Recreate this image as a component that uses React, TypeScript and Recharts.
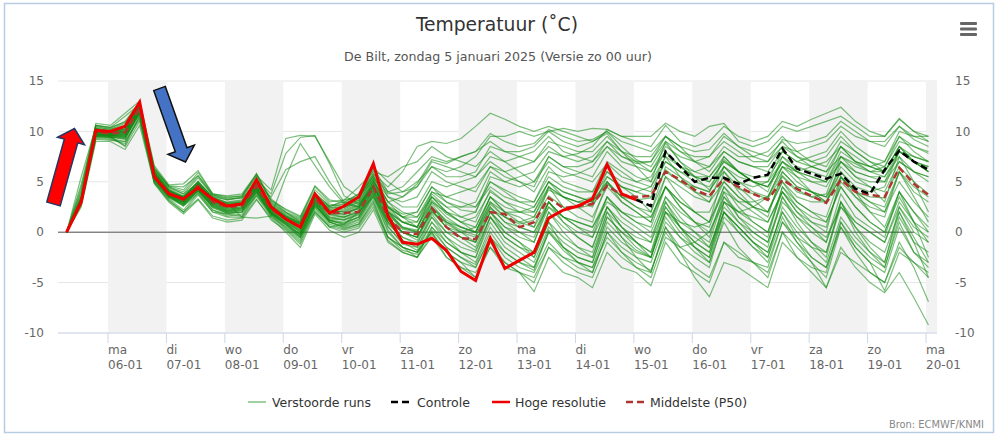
import React from 'react';
import { LineChart, Line, XAxis, YAxis, CartesianGrid, ReferenceArea, ReferenceLine } from 'recharts';

// time axis: hours after 05-01 00:00 (local), 6-hourly runs
const HOURS = [7, 13, 19, 25, 31, 37, 43, 49, 55, 61, 67, 73, 79, 85, 91, 97, 103, 109, 115, 121,
  127, 133, 139, 145, 151, 157, 163, 169, 175, 181, 187, 193, 199, 205, 211, 217, 223, 229, 235, 241,
  247, 253, 259, 265, 271, 277, 283, 289, 295, 301, 307, 313, 319, 325, 331, 337, 343, 349, 355, 361];

const TICKS = [24, 48, 72, 96, 120, 144, 168, 192, 216, 240, 264, 288, 312, 336, 360];
const DAY_NAMES = ['ma', 'di', 'wo', 'do', 'vr', 'za', 'zo', 'ma', 'di', 'wo', 'do', 'vr', 'za', 'zo', 'ma'];
const DATE_LABELS = ['06-01', '07-01', '08-01', '09-01', '10-01', '11-01', '12-01', '13-01', '14-01', '15-01', '16-01', '17-01', '18-01', '19-01', '20-01'];
const SHADED_DAYS: [number, number][] = [[24, 48], [72, 96], [120, 144], [168, 192], [216, 240], [264, 288], [312, 336], [360, 364.5]];
const Y_TICKS = [-10, -5, 0, 5, 10, 15];

// Hoge resolutie (deterministic run, 10 days)
const HIRES = [0, 3.0, 10.1, 10.0, 10.5, 12.9, 5.5, 3.8, 3.3, 4.4, 3.3, 2.6, 2.8, 5.2, 2.5,
  1.3, 0.5, 3.8, 1.9, 2.6, 3.5, 6.8, 1.6, -1.0, -1.2, -0.6, -1.8, -3.9, -4.8, -0.6,
  -3.6, -2.8, -2.0, 1.4, 2.2, 2.6, 3.3, 6.7, 3.8, 3.2];

// Controle (visible from where the high resolution run ends)
const CONTROL_START = 39;
const CONTROL = [3.2, 2.6, 8.0, 6.5, 5.0, 5.4, 5.4, 4.8, 5.4, 5.7, 8.3, 6.3, 5.8, 5.3, 5.8, 4.3, 3.8, 6.2, 8.1, 7.0, 6.2];

// Middelste (P50)
const MEDIAN = [0, 3.2, 9.9, 9.8, 9.9, 12.3, 5.6, 3.9, 3.2, 4.6, 3.0, 2.5, 2.6, 4.6, 2.3,
  1.3, 0.5, 3.3, 1.9, 1.9, 2.0, 4.5, 1.5, 0.0, -0.2, 2.4, 0.5, -0.6, -0.7, 2.0,
  1.8, 0.5, 1.0, 3.4, 2.4, 2.6, 2.8, 4.6, 3.7, 3.5, 3.6, 6.0, 5.2, 4.2, 3.6,
  5.3, 4.5, 3.8, 3.2, 5.2, 4.3, 3.6, 2.9, 5.2, 4.0, 3.7, 3.5, 6.4, 4.8, 3.7];

// Verstoorde runs (perturbed ensemble members)
const RUN_01 = [0, 3.5, 10.2, 9.9, 10.1, 12.5, 5.8, 4.0, 3.4, 4.8, 3.2, 2.7, 2.9, 4.8, 2.6,
  1.5, 0.8, 3.4, 2.1, 2.0, 2.3, 4.6, 1.8, 0.4, 0.1, 2.8, 1.0, 0.2, -0.3, 2.3,
  1.5, 0.8, 1.2, 3.6, 2.5, 2.4, 2.7, 4.8, 3.5, 3.2, 3.4, 6.2, 5.0, 4.0, 3.5,
  5.5, 4.3, 3.8, 3.3, 5.6, 4.2, 3.5, 3.0, 5.4, 4.0, 3.5, 3.4, 6.5, 5.0, 3.8];
const RUN_02 = [0, 3.0, 9.6, 9.5, 9.2, 11.8, 5.2, 3.6, 3.0, 4.2, 2.8, 2.2, 2.4, 4.3, 2.2,
  1.3, 0.6, 3.2, 2.4, 2.8, 3.6, 5.5, 3.0, 3.5, 4.8, 7.2, 6.8, 7.5, 8.0, 9.8,
  9.0, 8.5, 8.8, 10.2, 9.5, 9.0, 9.2, 10.0, 8.5, 7.2, 6.5, 8.8, 7.0, 5.5, 4.2,
  6.0, 4.5, 3.2, 2.0, 5.5, 4.0, 3.5, 3.8, 7.5, 6.8, 6.0, 6.5, 9.5, 8.5, 7.8];
const RUN_03 = [0, 2.8, 9.4, 9.3, 9.0, 11.5, 5.0, 3.4, 2.6, 4.0, 2.2, 1.8, 1.6, 3.8, 1.8,
  0.6, -0.5, 2.6, 1.2, 0.8, 1.5, 4.0, 1.0, -0.8, -1.5, 1.5, -0.5, -2.0, -3.0, 0.5,
  -1.5, -2.5, -3.5, 0.2, -1.5, -2.5, -3.0, 1.0, -0.5, -1.8, -2.5, 2.5, 0.5, -1.0, -2.0,
  3.0, 1.0, -0.5, -1.5, 3.5, 1.5, 0.0, -1.0, 3.8, 1.5, 0.5, -0.5, 4.0, 1.0, -2.5];
const RUN_04 = [0, 5.5, 10.5, 10.2, 10.8, 12.8, 6.2, 4.5, 3.8, 5.4, 3.6, 3.2, 3.5, 5.6, 4.2,
  9.3, 9.6, 9.5, 7.0, 4.5, 3.5, 5.2, 2.5, 1.5, 2.0, 4.5, 3.0, 2.2, 2.0, 5.0,
  4.2, 3.5, 3.0, 6.0, 5.5, 5.8, 6.5, 8.5, 7.5, 6.8, 7.0, 9.5, 8.5, 8.0, 8.2,
  9.8, 8.5, 7.5, 7.0, 9.2, 8.8, 9.0, 9.5, 11.0, 10.0, 9.0, 8.5, 10.5, 9.2, 8.5];
const RUN_05 = [0, 3.4, 10.3, 10.0, 10.4, 12.6, 6.0, 4.2, 3.5, 5.0, 3.4, 3.0, 3.2, 5.2, 3.8,
  7.8, 9.4, 9.6, 6.8, 3.6, 2.8, 4.6, 2.0, 0.5, 0.0, 3.0, 1.5, 0.5, 0.0, 3.5,
  2.0, 1.0, 0.5, 4.5, 2.5, 1.5, 1.0, 5.0, 3.0, 2.0, 1.0, 5.5, 3.5, 2.0, 1.0,
  6.0, 4.0, 2.5, 1.5, 6.0, 4.5, 4.0, 3.0, 7.0, 5.5, 4.5, 3.0, 7.5, 5.0, 2.0];
const RUN_06 = [0, 3.3, 10.0, 9.8, 10.2, 12.3, 5.9, 4.1, 3.3, 4.8, 3.1, 2.9, 1.5, 1.4, 1.6,
  5.5, 8.8, 6.6, 4.5, 2.8, 2.5, 5.0, 3.0, 1.5, 0.5, 3.8, 2.5, 1.5, 1.0, 4.2,
  3.0, 2.0, 1.5, 4.5, 3.5, 3.0, 2.5, 5.5, 4.5, 3.5, 2.0, 6.5, 5.5, 4.5, 4.0,
  7.5, 6.0, 5.0, 4.5, 7.0, 5.5, 4.0, 3.0, 6.0, 4.0, 2.0, 0.5, 4.0, 2.0, 0.0];
const RUN_07 = [0, 3.1, 9.7, 9.6, 9.5, 12.0, 5.4, 3.7, 3.0, 4.4, 2.8, 2.3, 2.4, 4.4, 2.0,
  0.8, -0.3, 2.8, 1.0, 0.5, 1.0, 3.5, 0.0, -1.5, -2.5, -0.5, -2.5, -3.5, -4.5, -1.0,
  -3.0, -4.0, -5.0, -1.5, -3.0, -4.0, -4.5, -1.0, -2.5, -3.5, -4.0, 0.5, -1.5, -2.5, -3.5,
  1.5, 0.0, -1.5, -2.5, 2.5, 0.5, -1.0, -2.0, 3.0, 0.5, -1.5, -3.0, 2.0, -1.0, -4.5];
const RUN_08 = [0, 3.3, 10.1, 9.9, 10.0, 12.4, 5.7, 3.9, 3.3, 4.7, 3.2, 2.6, 2.7, 4.9, 2.4,
  1.6, 1.0, 3.6, 2.2, 2.0, 2.6, 5.0, 2.5, 1.0, 0.5, 3.5, 2.0, 1.5, 2.0, 5.5,
  5.0, 5.5, 6.0, 8.0, 7.5, 7.8, 8.5, 10.2, 9.5, 9.0, 8.5, 10.6, 9.0, 8.5, 9.0,
  10.5, 9.5, 9.0, 9.5, 11.0, 10.5, 11.2, 11.8, 12.4, 11.0, 10.0, 9.5, 11.2, 10.0, 9.5];
const RUN_09 = [0, 2.9, 9.5, 9.4, 9.3, 11.9, 5.3, 3.5, 2.8, 4.1, 2.6, 2.0, 2.2, 4.0, 2.0,
  1.0, 0.2, 3.0, 1.5, 1.2, 1.8, 4.2, 1.2, 0.0, -0.8, 2.0, 0.5, -0.5, -1.0, 2.0,
  0.5, -0.5, -1.0, 2.5, 1.0, 0.0, -0.5, 3.5, 2.0, 1.0, 0.5, 4.5, 2.5, 1.0, -0.5,
  4.0, 1.5, 0.0, -1.0, 3.5, 1.0, -1.0, -2.5, 3.0, 0.0, -2.0, -3.0, 2.5, 0.0, -1.0];
const RUN_10 = [0, 4.8, 10.6, 10.4, 11.5, 12.7, 6.0, 4.3, 3.6, 5.0, 3.5, 2.9, 3.0, 5.1, 2.8,
  1.8, 1.2, 3.8, 2.6, 3.0, 3.8, 5.8, 4.5, 6.0, 8.5, 9.0, 8.8, 9.3, 10.5, 11.8,
  11.2, 10.5, 10.0, 10.5, 10.0, 9.5, 9.0, 9.8, 8.0, 6.5, 5.0, 7.5, 5.5, 4.0, 3.0,
  6.5, 5.0, 4.5, 5.0, 8.0, 7.0, 7.5, 8.0, 10.0, 8.5, 7.5, 7.0, 9.5, 8.0, 7.0];
const RUN_11 = [0, 3.2, 9.9, 9.8, 9.9, 12.2, 5.6, 3.9, 3.2, 4.5, 3.0, 2.5, 2.6, 4.6, 2.3,
  1.2, 0.4, 3.3, 1.8, 2.2, 2.8, 5.2, 2.0, 0.5, 0.2, 2.5, 0.8, 0.0, -0.5, 2.8,
  1.5, 1.0, 1.5, 4.2, 3.5, 3.0, 3.5, 5.5, 4.5, 4.0, 4.5, 7.0, 6.0, 5.5, 5.5,
  7.2, 6.0, 5.0, 4.5, 6.5, 5.0, 4.0, 3.5, 6.0, 4.5, 4.0, 4.5, 8.0, 7.0, 6.0];
const RUN_12 = [0, 3.0, 9.6, 9.5, 8.5, 11.0, 5.1, 3.5, 2.7, 4.2, 2.4, 1.9, 2.0, 4.1, 1.7,
  0.4, -0.8, 2.4, 0.8, 0.3, 0.8, 3.0, -0.5, -1.8, -2.2, 0.2, -1.5, -2.5, -3.2, 0.0,
  -2.0, -3.0, -3.8, 0.0, -1.8, -3.0, -3.5, -0.5, -2.0, -3.0, -3.8, 0.0, -2.0, -3.5, -4.5,
  -1.0, -2.0, -3.0, -4.0, 0.0, -1.5, -3.0, -4.5, 0.5, -1.5, -3.0, -4.0, 0.5, -2.0, -3.5];
const RUN_13 = [0, 3.4, 10.2, 9.9, 10.3, 12.5, 5.9, 4.1, 3.5, 4.9, 3.3, 2.8, 3.0, 5.0, 2.7,
  1.7, 1.1, 3.7, 2.5, 2.4, 3.0, 5.4, 3.5, 2.5, 2.5, 5.0, 4.5, 5.0, 5.5, 7.5,
  7.0, 7.5, 8.0, 9.5, 8.0, 7.5, 7.0, 8.5, 7.0, 6.5, 6.0, 8.5, 7.5, 7.0, 6.5,
  8.5, 7.5, 7.5, 8.0, 9.5, 8.0, 7.0, 6.5, 9.0, 8.0, 7.0, 6.5, 9.0, 8.5, 8.0];
const RUN_14 = [0, 3.1, 9.8, 9.6, 9.6, 12.1, 5.5, 3.8, 3.1, 4.5, 2.9, 2.4, 2.5, 4.4, 2.1,
  1.0, 0.0, 3.0, 1.5, 1.5, 2.0, 4.5, 1.5, 0.0, -0.5, 2.5, 1.0, 0.0, -1.0, 2.5,
  1.0, 0.0, -1.0, 3.0, 1.5, 0.5, 0.0, 3.5, 1.5, 0.5, -0.5, 3.0, 0.5, -1.5, -3.0,
  1.0, -1.5, -3.0, -4.5, 0.0, -2.5, -4.0, -5.5, -1.5, -3.5, -5.0, -6.0, -4.0, -6.5, -9.2];
const RUN_15 = [0, 3.3, 10.0, 9.7, 9.7, 12.3, 5.7, 4.0, 3.2, 4.6, 3.0, 2.6, 2.7, 4.7, 2.4,
  1.4, 0.7, 3.5, 2.0, 1.8, 2.5, 4.8, 2.2, 1.0, 0.5, 3.2, 1.8, 1.0, 0.5, 3.5,
  2.0, 1.5, 0.5, 3.0, 1.0, -0.5, -1.5, 2.5, 0.5, -1.0, -2.5, 2.0, 0.0, -1.5, -2.5,
  3.0, 2.0, 2.5, 3.5, 6.5, 6.0, 6.5, 7.0, 8.5, 7.0, 6.0, 5.5, 7.5, 6.0, 5.0];
const RUN_16 = [0, 2.9, 9.5, 9.4, 8.6, 11.6, 5.0, 3.3, 2.2, 3.9, 2.2, 1.6, 1.8, 3.9, 1.6,
  0.5, -0.6, 2.5, 1.0, 0.6, 1.2, 3.8, 0.5, -1.0, -1.8, 1.0, -1.0, -2.0, -2.5, 1.5,
  -0.5, -1.5, -2.0, 2.0, 0.5, -0.5, -1.5, 2.5, 0.5, -1.0, -2.0, 3.0, 1.0, 0.0, -1.0,
  3.5, 1.5, 0.5, -0.5, 4.5, 2.5, 1.0, 0.0, 5.5, 3.5, 2.0, 1.5, 6.0, 4.0, 3.0];
const RUN_17 = [0, 4.2, 10.6, 10.3, 11.0, 12.9, 6.3, 4.6, 4.5, 5.6, 3.7, 3.4, 3.6, 5.8, 3.3,
  2.2, 1.5, 4.2, 2.8, 2.5, 3.2, 6.2, 3.5, 3.0, 3.5, 6.0, 5.0, 4.5, 4.0, 6.5,
  5.5, 5.0, 4.5, 7.5, 6.5, 6.0, 5.5, 8.0, 6.5, 5.5, 5.0, 9.0, 8.0, 7.5, 7.5,
  9.5, 8.5, 8.0, 7.5, 9.0, 7.5, 6.5, 6.0, 8.5, 7.0, 6.5, 7.0, 10.0, 9.5, 9.0];
const RUN_18 = [0, 3.0, 9.7, 9.5, 9.5, 11.9, 5.3, 3.6, 2.9, 4.3, 2.7, 2.1, 2.3, 4.3, 1.9,
  0.9, -0.2, 2.9, 1.2, 1.0, 1.5, 4.0, 0.8, -0.5, -1.2, 1.8, 0.0, -1.0, -1.8, 1.5,
  0.0, -1.0, -2.0, 2.0, 0.0, -1.5, -2.5, 2.0, -0.5, -2.5, -4.0, 0.5, -2.0, -4.5, -6.4,
  -3.0, -3.5, -4.5, -5.5, -1.0, -2.5, -3.5, -4.0, 1.0, -1.0, -2.5, -3.5, 1.5, -1.0, -2.0];
const RUN_19 = [0, 3.2, 9.9, 9.8, 10.0, 12.4, 5.7, 4.0, 3.3, 4.7, 3.1, 2.6, 2.8, 4.8, 2.5,
  1.5, 0.8, 3.5, 2.2, 2.5, 3.2, 5.6, 3.0, 2.0, 1.5, 4.0, 3.0, 2.5, 3.0, 6.0,
  5.0, 4.5, 5.0, 7.0, 6.0, 5.5, 5.0, 6.8, 5.5, 5.0, 5.5, 8.0, 6.5, 6.0, 6.5,
  8.0, 7.0, 6.5, 6.0, 8.0, 7.0, 6.5, 6.0, 7.5, 6.0, 5.5, 5.0, 7.0, 6.0, 5.5];
const RUN_20 = [0, 3.1, 9.7, 9.7, 9.8, 12.2, 5.5, 3.8, 3.1, 4.4, 2.9, 2.4, 2.5, 4.5, 2.2,
  1.2, 0.3, 3.1, 1.7, 1.5, 2.2, 4.6, 1.5, 0.0, -0.5, 2.2, 0.5, 0.0, 0.5, 3.5,
  2.5, 2.0, 2.0, 4.5, 3.5, 3.0, 3.0, 5.0, 3.5, 2.5, 1.5, 4.5, 3.0, 2.0, 1.0,
  4.5, 3.0, 2.0, 1.0, 4.0, 2.0, 1.0, 0.5, 5.0, 3.5, 2.5, 2.0, 6.0, 3.5, 1.0];
const RUN_21 = [0, 2.8, 9.3, 9.2, 8.8, 11.4, 4.9, 3.2, 2.0, 3.7, 2.0, 1.5, 1.5, 3.6, 1.5,
  0.3, -1.0, 2.2, 0.6, 0.2, 0.6, 2.8, -0.8, -2.0, -2.5, -0.2, -2.0, -3.0, -3.5, -0.5,
  -2.5, -3.5, -4.0, -1.0, -2.5, -3.5, -4.0, 0.0, -1.5, -2.5, -3.0, 1.0, -0.5, -1.5, -2.5,
  2.0, 0.5, -1.0, -2.0, 2.0, -0.5, -2.5, -3.5, 0.5, -2.0, -4.0, -5.0, -1.0, -3.5, -6.9];
const RUN_22 = [0, 3.4, 10.1, 9.9, 10.4, 12.5, 5.8, 4.1, 3.4, 4.8, 3.2, 2.7, 2.9, 4.9, 2.6,
  1.6, 0.9, 3.6, 2.3, 2.6, 3.4, 5.8, 4.0, 4.5, 6.0, 7.5, 7.0, 7.5, 8.0, 9.0,
  8.0, 7.5, 7.0, 9.0, 8.5, 8.0, 8.0, 9.5, 8.0, 7.0, 6.0, 8.0, 6.5, 5.5, 5.0,
  7.0, 6.0, 5.0, 4.5, 7.0, 6.0, 5.5, 5.0, 8.0, 7.0, 6.5, 6.0, 8.5, 7.0, 6.0];
const RUN_23 = [0, 3.0, 9.6, 9.6, 9.4, 11.8, 5.2, 3.6, 2.8, 4.1, 2.5, 2.0, 2.1, 4.1, 1.8,
  0.8, -0.2, 2.7, 1.1, 0.9, 1.5, 3.8, 0.6, -1.2, -1.5, 1.0, -0.5, -1.5, -2.0, 1.5,
  -0.5, -1.5, -2.5, 1.0, -0.5, -1.5, -2.0, 2.0, 0.5, -0.5, -1.0, 3.5, 2.0, 1.0, 0.5,
  4.5, 2.5, 1.0, 0.0, 4.0, 2.0, 0.5, -1.0, 3.0, 1.0, 0.0, -1.0, 2.5, 0.5, -0.5];
const RUN_24 = [0, 3.3, 10.1, 9.9, 10.2, 12.6, 5.8, 4.0, 3.4, 4.7, 3.2, 2.7, 2.8, 4.8, 2.5,
  1.5, 0.8, 3.4, 2.0, 1.8, 2.4, 4.8, 2.0, 1.0, 1.0, 4.0, 3.5, 4.0, 4.5, 6.5,
  6.0, 6.5, 7.0, 8.5, 7.5, 7.0, 7.5, 9.0, 7.5, 7.0, 7.0, 9.0, 7.0, 6.0, 5.5,
  7.5, 6.0, 5.5, 5.5, 7.5, 6.0, 5.0, 4.5, 7.0, 5.5, 5.0, 5.0, 8.0, 7.5, 7.0];
const RUN_25 = [0, 3.2, 9.8, 9.7, 9.9, 12.3, 5.6, 3.9, 3.2, 4.6, 3.0, 2.5, 2.7, 4.6, 2.3,
  1.3, 0.5, 3.2, 1.8, 1.7, 2.4, 4.7, 1.8, 0.3, 0.0, 2.5, 1.2, 0.5, 0.0, 3.0,
  2.0, 2.0, 2.5, 5.0, 4.0, 3.5, 3.0, 5.0, 3.5, 2.5, 2.0, 5.5, 4.5, 3.5, 3.0,
  5.0, 3.5, 2.5, 2.0, 5.0, 3.5, 3.0, 3.0, 5.5, 4.0, 3.0, 2.5, 6.0, 4.5, 3.5];
const RUN_26 = [0, 3.0, 9.5, 9.4, 9.3, 11.8, 5.2, 3.5, 2.7, 4.1, 2.5, 1.9, 2.0, 4.0, 1.8,
  0.7, -0.4, 2.7, 1.2, 0.7, 1.3, 3.6, 0.2, -1.5, -2.0, 0.5, -1.5, -2.5, -3.5, -0.5,
  -2.0, -3.0, -3.5, 0.0, -1.5, -2.5, -3.0, 1.5, 0.0, -1.5, -2.5, 1.5, -0.5, -2.0, -3.0,
  2.0, 0.5, -1.0, -2.5, 1.5, -1.0, -3.0, -5.5, -2.0, -3.0, -4.0, -5.0, -1.5, -3.0, -4.5];
const RUN_27 = [0, 4.5, 10.3, 10.1, 10.5, 12.7, 6.0, 4.2, 3.5, 5.1, 3.4, 2.9, 3.1, 5.2, 2.9,
  1.9, 1.3, 3.9, 2.6, 2.8, 3.5, 5.6, 3.8, 4.0, 5.0, 6.5, 6.0, 6.5, 7.5, 9.5,
  9.5, 10.0, 9.5, 10.0, 10.3, 10.0, 10.3, 10.2, 9.5, 9.5, 9.5, 10.8, 10.0, 9.5, 10.5,
  10.8, 9.0, 8.5, 9.0, 10.5, 10.0, 10.5, 11.0, 11.5, 10.5, 9.5, 9.5, 11.3, 10.0, 9.0];
const RUN_28 = [0, 3.0, 9.6, 9.5, 9.4, 11.9, 5.3, 3.6, 2.9, 4.2, 2.6, 2.1, 2.2, 4.2, 1.9,
  0.9, -0.2, 2.7, 1.0, 0.4, 0.8, 3.2, -0.5, -1.5, -2.0, 0.0, -2.0, -3.0, -4.5, -1.5,
  -3.5, -4.0, -5.9, -2.5, -4.0, -4.5, -5.5, -2.0, -3.5, -4.0, -5.3, -1.0, -3.0, -4.0, -5.0,
  -1.0, -2.5, -3.0, -3.5, 1.0, -0.5, -1.5, -2.0, 2.5, 1.0, 0.0, -1.0, 3.0, 1.0, 0.0];
const RUN_29 = [0, 3.2, 9.9, 9.8, 10.0, 12.3, 5.7, 3.9, 3.2, 4.6, 3.1, 2.6, 2.7, 4.7, 2.4,
  1.4, 0.6, 3.3, 2.0, 2.1, 2.7, 5.0, 2.4, 1.5, 1.5, 3.5, 2.5, 2.5, 2.5, 4.5,
  3.5, 3.0, 3.0, 5.5, 4.5, 4.0, 4.0, 6.0, 4.5, 4.0, 3.5, 6.0, 5.0, 4.5, 4.0,
  6.5, 5.0, 4.0, 3.5, 6.0, 4.5, 4.0, 3.5, 6.5, 5.0, 4.5, 4.0, 7.0, 6.0, 5.5];
const RUN_30 = [0, 3.1, 9.8, 9.6, 9.7, 12.0, 5.4, 3.7, 3.0, 4.4, 2.8, 2.3, 2.4, 4.4, 2.1,
  1.1, 0.1, 3.0, 1.4, 1.3, 1.9, 4.3, 1.2, 0.0, -0.5, 2.2, 0.5, -0.5, -1.0, 2.0,
  0.5, 0.0, -0.5, 3.0, 1.5, 1.0, 0.5, 3.5, 2.0, 1.0, 0.0, 3.5, 1.5, 0.0, -1.5,
  2.0, 0.0, -1.5, -3.0, 1.0, -1.0, -2.5, -3.5, 1.0, -1.5, -3.0, -5.8, -2.0, -3.0, -4.0];
const RUN_31 = [0, 3.4, 10.2, 10.0, 10.2, 12.5, 5.8, 4.1, 3.4, 4.8, 3.2, 2.8, 2.9, 4.9, 2.6,
  1.6, 0.9, 3.6, 2.1, 2.3, 3.0, 5.3, 2.6, 1.8, 2.0, 4.5, 3.5, 3.0, 2.5, 5.0,
  4.0, 3.0, 2.5, 5.0, 3.5, 2.5, 1.5, 4.5, 3.0, 2.0, 1.0, 4.5, 2.5, 1.0, 0.0,
  3.5, 2.0, 1.0, 0.0, 4.5, 3.0, 2.0, 1.5, 5.5, 4.0, 3.0, 2.0, 5.0, 3.0, 1.5];
const RUN_32 = [0, 3.0, 9.7, 9.6, 9.6, 12.0, 5.4, 3.7, 3.0, 4.3, 2.7, 2.2, 2.3, 4.3, 2.0,
  1.0, 0.0, 2.9, 1.3, 1.2, 1.7, 4.2, 1.0, -0.5, -1.0, 1.5, 0.0, -0.5, -1.5, 2.0,
  0.0, -1.0, -2.5, 1.0, -1.5, -3.0, -4.0, 0.0, -2.0, -3.5, -4.5, -0.5, -1.5, -1.0, 0.0,
  3.0, 2.0, 1.5, 1.0, 4.0, 2.5, 1.5, 1.0, 4.5, 2.5, 1.0, 0.0, 4.0, 2.0, 0.5];
const RUN_33 = [0, 4.0, 10.8, 10.6, 11.8, 13.0, 6.6, 4.7, 4.8, 6.1, 3.8, 3.6, 3.8, 5.8, 3.0,
  2.0, 1.4, 4.5, 3.0, 3.2, 3.5, 6.4, 5.0, 4.0, 4.5, 7.0, 6.5, 6.0, 5.5, 7.0,
  6.0, 5.0, 4.0, 6.5, 5.0, 4.5, 4.0, 7.0, 6.0, 5.0, 4.5, 7.5, 6.5, 5.5, 5.0,
  7.0, 6.0, 5.0, 4.0, 7.5, 6.5, 6.0, 5.5, 8.5, 7.5, 6.5, 6.0, 8.0, 7.0, 6.5];
const RUN_34 = [0, 2.5, 9.0, 9.0, 8.2, 10.6, 4.8, 3.0, 1.8, 3.2, 1.4, 1.0, 1.2, 3.2, 1.4,
  0.0, -1.5, 1.8, 0.2, -0.5, 0.0, 2.2, -1.0, -2.0, -2.5, 0.5, -1.0, -2.0, -2.5, 1.0,
  -1.0, -2.0, -3.0, 0.5, -1.0, -2.0, -2.5, 1.5, 0.0, -1.0, -2.0, 2.0, 0.5, -0.5, -1.5,
  2.5, 1.0, 0.0, -1.0, 3.0, 1.5, 0.5, -0.5, 2.5, 0.5, -1.0, -2.0, 2.0, -0.5, -3.0];
const RUN_35 = [0, 3.6, 10.4, 10.2, 10.6, 12.6, 6.3, 4.5, 4.0, 5.6, 3.7, 3.3, 3.4, 5.5, 3.2,
  2.0, 1.0, 3.5, 2.5, 3.2, 4.5, 6.0, 5.5, 6.5, 7.0, 8.5, 7.5, 7.0, 6.5, 8.0,
  7.0, 6.0, 5.0, 7.5, 6.5, 6.5, 7.0, 9.0, 8.0, 7.5, 7.5, 9.5, 8.5, 7.0, 6.0,
  8.0, 7.0, 6.5, 6.5, 8.5, 7.5, 7.0, 7.5, 9.5, 8.0, 7.0, 6.0, 8.5, 7.5, 7.0];
const RUN_36 = [0, 2.7, 9.2, 9.1, 9.0, 11.2, 4.9, 3.1, 2.0, 3.3, 1.6, 1.2, 1.4, 3.3, 1.2,
  0.2, -1.2, 2.0, 0.5, 0.8, 2.0, 3.5, 1.0, 0.0, -0.5, 2.0, 1.0, 0.5, 0.0, 2.5,
  1.0, 0.5, 0.0, 2.5, 1.5, 1.0, 0.5, 3.0, 2.0, 1.5, 1.5, 4.5, 3.0, 2.0, 2.0,
  5.0, 3.5, 2.5, 2.0, 5.0, 3.0, 2.0, 1.0, 4.5, 2.5, 1.0, 0.0, 3.5, 1.0, -1.0];
const RUN_37 = [0, 3.1, 9.9, 9.7, 10.0, 12.1, 5.6, 3.6, 2.6, 3.8, 2.0, 1.8, 2.0, 3.6, 1.9,
  0.8, -0.5, 2.0, 0.5, 0.0, 0.4, 2.5, -0.5, -1.5, -2.0, 0.0, -2.5, -3.5, -4.0, -1.5,
  -3.0, -4.0, -4.5, -1.5, -2.5, -3.0, -3.5, 0.5, -1.0, -2.0, -2.5, 2.0, 1.0, 0.5, 1.0,
  4.0, 3.0, 3.0, 3.5, 6.5, 5.5, 5.0, 5.0, 7.5, 6.5, 6.0, 6.0, 8.5, 7.0, 6.5];
const RUN_38 = [0, 3.5, 10.3, 10.0, 10.6, 12.4, 6.1, 4.4, 3.8, 4.9, 3.5, 3.2, 3.4, 4.8, 3.5,
  6.2, 7.0, 7.5, 5.0, 3.0, 2.5, 4.5, 2.0, 1.0, 0.5, 3.0, 2.0, 1.0, 1.5, 4.0,
  3.0, 2.5, 2.0, 5.0, 4.0, 3.5, 3.0, 6.0, 5.0, 4.5, 4.0, 7.0, 6.0, 5.0, 4.5,
  6.5, 5.5, 5.0, 5.0, 7.0, 6.0, 5.5, 5.0, 7.0, 6.0, 5.5, 5.5, 8.0, 7.0, 6.0];
const RUN_39 = [0, 3.2, 9.8, 9.6, 9.8, 12.2, 5.5, 3.8, 3.6, 4.6, 3.0, 2.5, 2.8, 4.4, 2.3,
  1.2, 0.2, 3.0, 1.8, 1.5, 2.0, 4.5, 2.5, 1.5, 1.0, 3.5, 2.0, 1.0, 0.0, 3.0,
  1.5, 0.5, 0.0, 3.0, 1.5, 0.5, -0.5, 2.5, 1.0, 0.0, -1.0, 2.5, 0.5, -1.0, -2.0,
  2.0, 0.5, -1.0, -2.0, 2.0, 0.0, -1.5, -3.0, 1.5, -0.5, -2.0, -3.5, 1.0, -2.0, -3.0];
const RUN_40 = [0, 3.8, 10.6, 10.4, 10.9, 12.8, 6.4, 4.6, 4.2, 5.9, 3.8, 3.5, 3.6, 5.7, 3.1,
  2.3, 1.6, 4.6, 3.2, 2.9, 3.8, 6.4, 4.0, 3.5, 4.5, 6.5, 5.5, 5.5, 6.0, 8.5,
  8.0, 8.0, 8.5, 10.0, 9.0, 8.5, 9.0, 10.0, 9.0, 8.5, 8.0, 9.5, 8.0, 7.0, 7.5,
  9.0, 8.0, 7.0, 7.0, 8.5, 8.0, 8.5, 9.0, 10.5, 9.5, 9.0, 9.0, 10.5, 9.5, 9.5];

const RUNS = [RUN_01, RUN_02, RUN_03, RUN_04, RUN_05, RUN_06, RUN_07, RUN_08, RUN_09, RUN_10,
  RUN_11, RUN_12, RUN_13, RUN_14, RUN_15, RUN_16, RUN_17, RUN_18, RUN_19, RUN_20,
  RUN_21, RUN_22, RUN_23, RUN_24, RUN_25, RUN_26, RUN_27, RUN_28, RUN_29, RUN_30,
  RUN_31, RUN_32, RUN_33, RUN_34, RUN_35, RUN_36, RUN_37, RUN_38, RUN_39, RUN_40];

const rows = HOURS.map((h, k) => {
  const row: Record<string, number | null> = { h };
  RUNS.forEach((run, i) => {
    row['r' + i] = run[k];
  });
  row.hires = k < HIRES.length ? HIRES[k] : null;
  row.ctrl = k >= CONTROL_START ? CONTROL[k - CONTROL_START] : null;
  row.med = MEDIAN[k];
  return row;
});

const TICK_FONT = "'DejaVu Sans', Verdana, sans-serif";
const NARROW_FONT = "'Liberation Sans Narrow', 'DejaVu Sans Condensed', 'Liberation Sans', Arial, sans-serif";

function XTick(props: any) {
  const { x, y, payload } = props;
  const i = TICKS.indexOf(payload.value);
  return (
    <g>
      <text x={x} y={y + 9} fill="#666" fontSize={12} fontFamily={TICK_FONT}>{DAY_NAMES[i]}</text>
      <text x={x} y={y + 24} fill="#666" fontSize={12} fontFamily={TICK_FONT}>{DATE_LABELS[i]}</text>
    </g>
  );
}

function arrowPoints(tail: [number, number], tip: [number, number], sw: number, hw: number, hl: number) {
  const dx = tip[0] - tail[0];
  const dy = tip[1] - tail[1];
  const L = Math.hypot(dx, dy);
  const ux = dx / L, uy = dy / L;
  const nx = -uy, ny = ux;
  const bx = tip[0] - ux * hl, by = tip[1] - uy * hl;
  const p = [
    [tail[0] + nx * sw, tail[1] + ny * sw],
    [bx + nx * sw, by + ny * sw],
    [bx + nx * hw, by + ny * hw],
    [tip[0], tip[1]],
    [bx - nx * hw, by - ny * hw],
    [bx - nx * sw, by - ny * sw],
    [tail[0] - nx * sw, tail[1] - ny * sw],
  ];
  return p.map((q) => q[0].toFixed(1) + ',' + q[1].toFixed(1)).join(' ');
}

export default function App() {
  return (
    <div style={{ position: 'absolute', left: 0, top: 0, width: 1000, height: 439, background: '#fff', overflow: 'hidden' }}>
      <LineChart width={1000} height={439} data={rows} margin={{ top: 81, right: 13, bottom: 66, left: 8 }}>
        {SHADED_DAYS.map(([a, b], i) => (
          <ReferenceArea key={'band' + i} x1={a} x2={b} fill="#f2f2f2" fillOpacity={1} stroke="none" ifOverflow="hidden" />
        ))}
        <CartesianGrid vertical={false} stroke="#e6e6e6" />
        <XAxis
          dataKey="h"
          type="number"
          domain={[3.46, 364.5]}
          allowDataOverflow
          ticks={TICKS}
          interval={0}
          tick={<XTick />}
          tickSize={10}
          height={40}
          axisLine={{ stroke: '#ccd6eb' }}
          tickLine={{ stroke: '#ccd6eb' }}
        />
        <YAxis
          domain={[-10, 15]}
          ticks={Y_TICKS}
          allowDataOverflow
          width={50}
          axisLine={false}
          tickLine={false}
          tickSize={6}
          tickMargin={8}
          tick={{ fill: '#666', fontSize: 12, fontFamily: TICK_FONT }}
        />
        <YAxis
          yAxisId="right"
          orientation="right"
          domain={[-10, 15]}
          ticks={Y_TICKS}
          allowDataOverflow
          width={50}
          axisLine={false}
          tickLine={false}
          tickSize={6}
          tickMargin={12}
          tick={{ fill: '#666', fontSize: 12, fontFamily: TICK_FONT, textAnchor: 'start' }}
        />
        <ReferenceLine segment={[{ x: 3.46, y: 0 }, { x: 355, y: 0 }]} stroke="#555" strokeWidth={1} />
        {RUNS.map((_, i) => (
          <Line
            key={'run' + i}
            dataKey={'r' + i}
            type="linear"
            stroke="#138a13"
            strokeOpacity={0.55}
            strokeWidth={1.2}
            dot={false}
            activeDot={false}
            isAnimationActive={false}
          />
        ))}
        <Line dataKey="med" type="linear" stroke="#b03530" strokeWidth={2.5} strokeDasharray="7 4" dot={false} activeDot={false} isAnimationActive={false} />
        <Line dataKey="hires" type="linear" stroke="#ee0000" strokeWidth={3} dot={false} activeDot={false} isAnimationActive={false} connectNulls={false} />
        <Line dataKey="ctrl" type="linear" stroke="#000000" strokeWidth={2.5} strokeDasharray="7 4" dot={false} activeDot={false} isAnimationActive={false} />
      </LineChart>
      <svg width={1000} height={439} style={{ position: 'absolute', left: 0, top: 0, pointerEvents: 'none' }}>
        <rect x={4.5} y={3.5} width={989} height={429} fill="none" stroke="#b8cce4" strokeWidth={1.5} />
        <text x={497} y={31} textAnchor="middle" fontFamily={NARROW_FONT} fontSize={19} fill="#333" textLength={162} lengthAdjust="spacingAndGlyphs">
          Temperatuur (˚C)
        </text>
        <text x={498} y={61} textAnchor="middle" fontFamily={NARROW_FONT} fontSize={13} fill="#555" textLength={308} lengthAdjust="spacingAndGlyphs">
          De Bilt, zondag 5 januari 2025 (Versie zo 00 uur)
        </text>
        <rect x={960} y={22} width={17} height={3} rx={1} fill="#666" />
        <rect x={960} y={27.5} width={17} height={3} rx={1} fill="#666" />
        <rect x={960} y={33} width={17} height={3} rx={1} fill="#666" />

        <polygon points={arrowPoints([53.5, 204], [74.5, 128.5], 7, 14, 13)} fill="#ff0000" stroke="#1f3864" strokeWidth={1.5} strokeLinejoin="miter" />
        <polygon points={arrowPoints([159.5, 88.5], [185.5, 162], 6.2, 14, 13)} fill="#4472c4" stroke="#111111" strokeWidth={1.5} strokeLinejoin="miter" />

        <line x1={248} y1={402} x2={266} y2={402} stroke="#9fd09f" strokeWidth={2} />
        <text x={272} y={406.5} fontFamily={NARROW_FONT} fontSize={13} fill="#333" textLength={99} lengthAdjust="spacingAndGlyphs">Verstoorde runs</text>
        <line x1={391} y1={402} x2={409} y2={402} stroke="#000" strokeWidth={2.5} strokeDasharray="7 4" />
        <text x={417} y={406.5} fontFamily={NARROW_FONT} fontSize={13} fill="#333" textLength={53} lengthAdjust="spacingAndGlyphs">Controle</text>
        <line x1={492} y1={402} x2={510} y2={402} stroke="#ee0000" strokeWidth={2.5} />
        <text x={515} y={406.5} fontFamily={NARROW_FONT} fontSize={13} fill="#333" textLength={91} lengthAdjust="spacingAndGlyphs">Hoge resolutie</text>
        <line x1={626} y1={402} x2={644} y2={402} stroke="#b03530" strokeWidth={2.5} strokeDasharray="7 4" />
        <text x={650} y={406.5} fontFamily={NARROW_FONT} fontSize={13} fill="#333" textLength={97} lengthAdjust="spacingAndGlyphs">Middelste (P50)</text>

        <text x={889} y={428} fontFamily={NARROW_FONT} fontSize={10} fill="#888" textLength={95} lengthAdjust="spacingAndGlyphs">Bron: ECMWF/KNMI</text>
      </svg>
    </div>
  );
}
